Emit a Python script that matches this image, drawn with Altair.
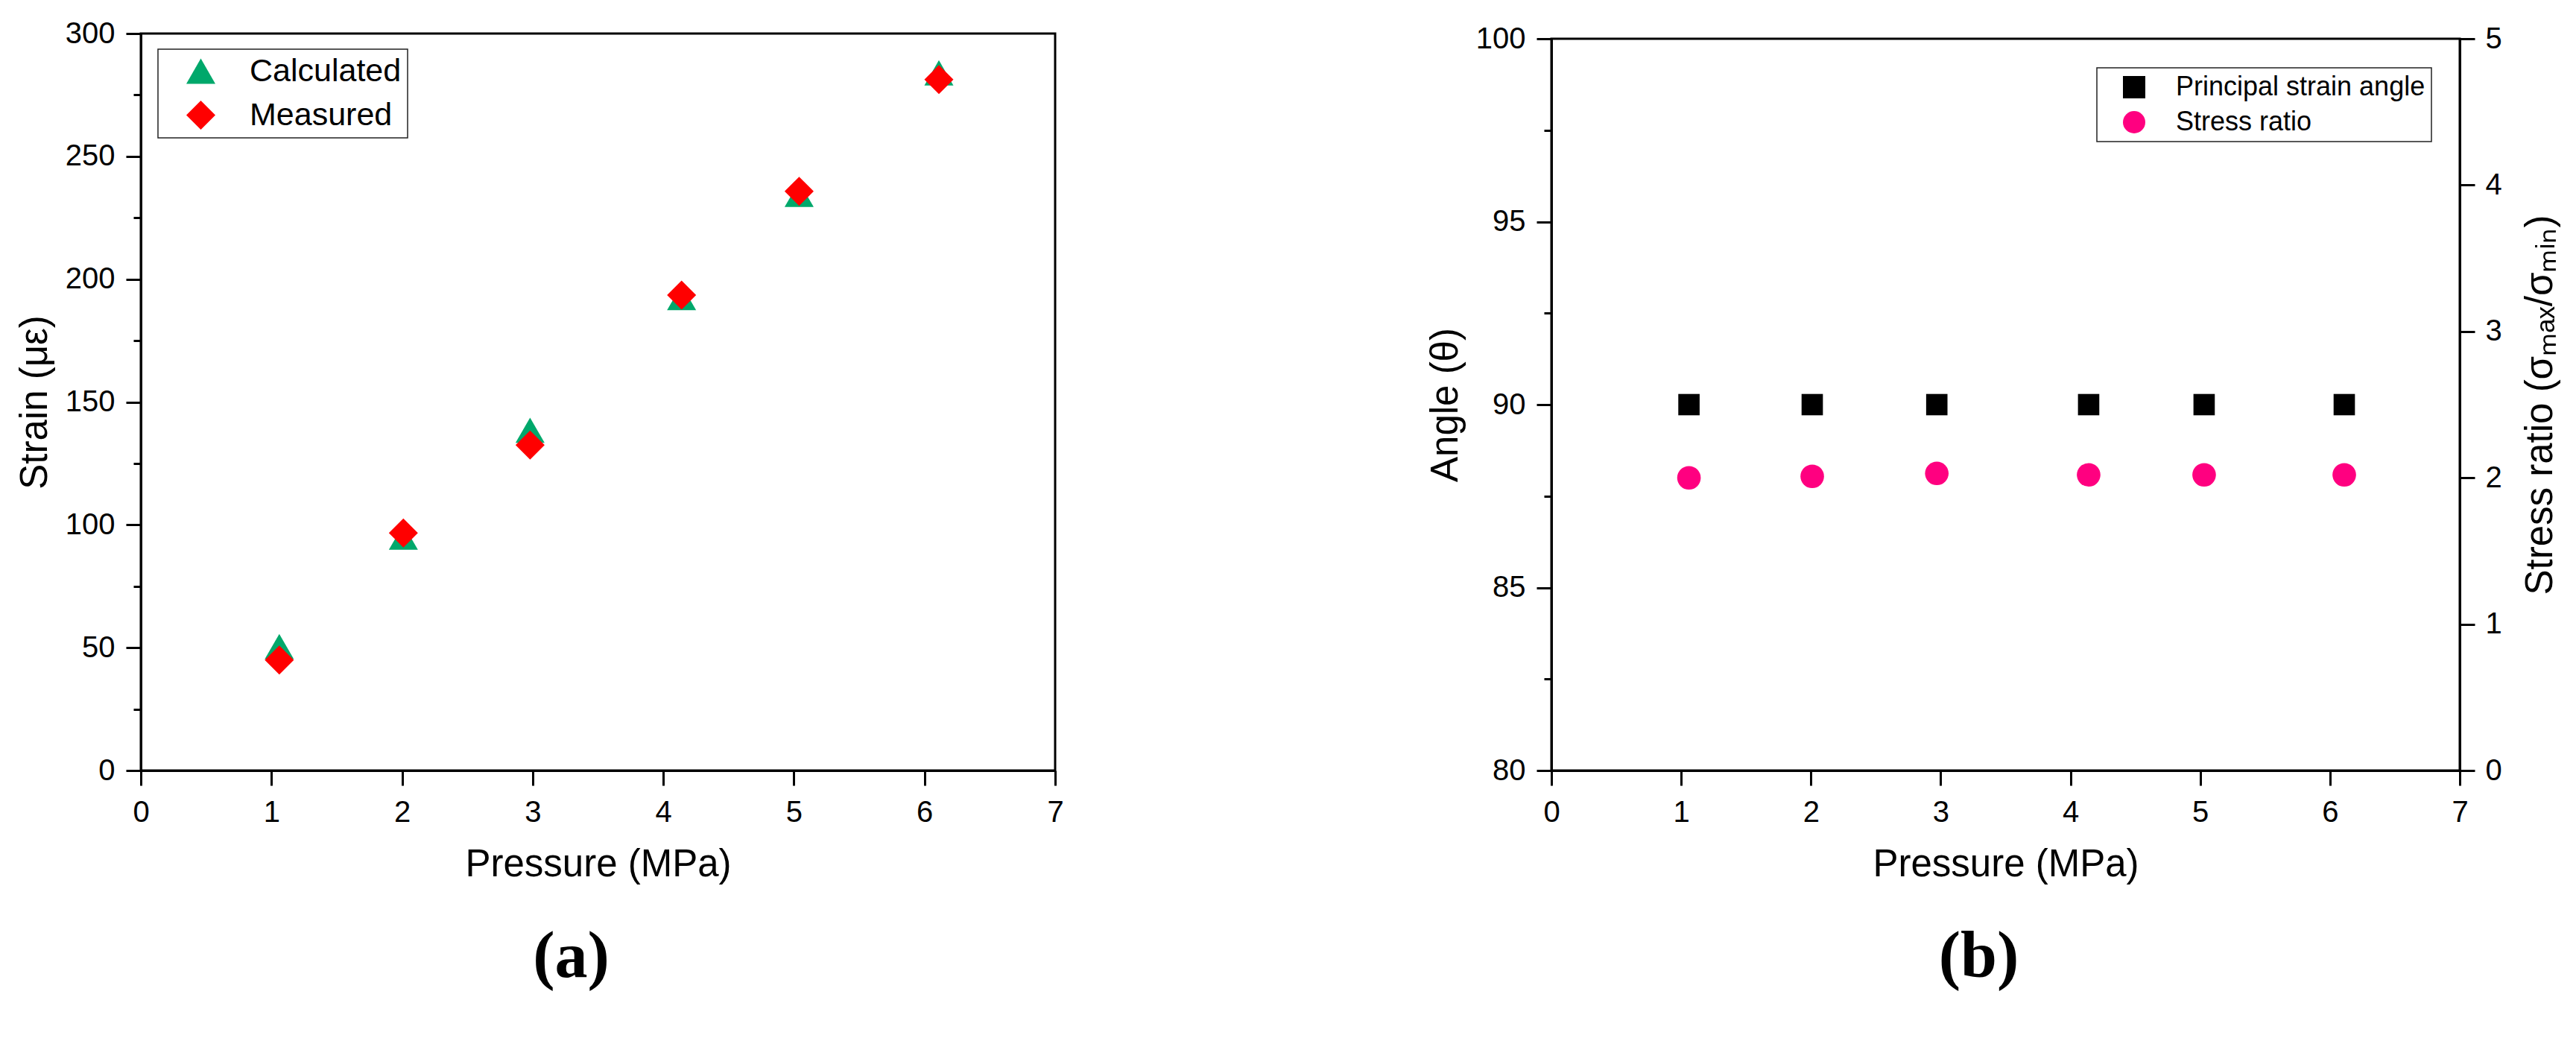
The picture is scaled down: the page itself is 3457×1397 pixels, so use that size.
import altair as alt
import pandas as pd

# ---------------- data ----------------
pressure = [1.06, 2.01, 2.98, 4.14, 5.04, 6.11]
strain_calculated = [50.5, 95, 138.5, 192.5, 234.5, 284]
strain_measured = [45, 96.7, 132.5, 193.5, 235.8, 281.3]

pressure_b = [1.06, 2.01, 2.97, 4.14, 5.03, 6.11]
angle = [90, 90, 90, 90, 90, 90]
stress_ratio = [2.00, 2.01, 2.03, 2.02, 2.02, 2.02]

series_a = ["Calculated", "Measured"]
series_b = ["Principal strain angle", "Stress ratio"]

x_ticks = [i * 0.5 for i in range(15)]
strain_ticks = list(range(0, 301, 25))
angle_ticks = [80 + 2.5 * i for i in range(9)]
ratio_ticks = [0.5 * i for i in range(11)]

FONT = "Liberation Sans"
SERIF = "Liberation Serif"


def make_axis(values, major_test, title, orient, label_pad, title_pad, **kw):
    return alt.Axis(
        values=values,
        title=title,
        orient=orient,
        grid=False,
        format="d",
        labelExpr=f"({major_test}) ? datum.label : ''",
        tickSize={"condition": {"test": major_test, "value": 20}, "value": 10},
        tickWidth=3,
        tickColor="black",
        domainWidth=3,
        domainColor="black",
        labelFont=FONT,
        labelFontSize=40,
        labelColor="black",
        labelPadding=label_pad,
        labelOverlap=False,
        labelFlush=False,
        titleFont=FONT,
        titleFontSize=51,
        titleFontWeight="normal",
        titleColor="black",
        titlePadding=title_pad,
        **kw,
    )


# ---------------- panel (a) ----------------
df_a = pd.DataFrame({
    "pressure": pressure + pressure,
    "strain": strain_calculated + strain_measured,
    "series": [series_a[0]] * len(pressure) + [series_a[1]] * len(pressure),
})

legend_a = alt.Legend(
    orient="none", legendX=23, legendY=21, title=None,
    strokeColor="#222222", fillColor="white", padding=8,
    labelFont=FONT, labelFontSize=43, labelColor="black", labelLimit=1000,
    symbolSize=1521, symbolStrokeWidth=0, symbolOffset=28,
    labelOffset=44, rowPadding=15,
)

chart_a = alt.Chart(df_a).mark_point(filled=True, opacity=1, size=1521, strokeWidth=0).encode(
    x=alt.X("pressure:Q", scale=alt.Scale(domain=[0, 7], nice=False, zero=False),
            axis=make_axis(x_ticks, "datum.value % 1 === 0", "Pressure (MPa)", "bottom", 16, 25)),
    y=alt.Y("strain:Q", scale=alt.Scale(domain=[0, 300], nice=False),
            axis=make_axis(strain_ticks, "datum.value % 50 === 0", "Strain (\u03bc\u03b5)", "left", 15, 14)),
    color=alt.Color("series:N", scale=alt.Scale(domain=series_a, range=["#00A86B", "#FF0000"]), legend=legend_a),
    shape=alt.Shape("series:N", scale=alt.Scale(domain=series_a, range=["triangle-up", "diamond"]), legend=legend_a),
).properties(
    width=1227, height=989,
    view=alt.ViewBackground(stroke="black", strokeWidth=3, fill="white"),
    title=alt.TitleParams("(a)", orient="bottom", anchor="middle", frame="group", dx=-36,
                          font=SERIF, fontSize=88, fontWeight="bold", color="black", offset=56),
)

# ---------------- panel (b) ----------------
df_b1 = pd.DataFrame({"pressure": pressure_b, "value": angle, "series": series_b[0]})
df_b2 = pd.DataFrame({"pressure": pressure_b, "value": stress_ratio, "series": series_b[1]})

legend_b = alt.Legend(
    orient="none", legendX=732, legendY=46, title=None,
    strokeColor="#222222", fillColor="white", padding=8,
    labelFont=FONT, labelFontSize=36, labelColor="black", labelLimit=1000,
    symbolSize=900, symbolStrokeWidth=0, symbolOffset=24,
    labelOffset=38, rowPadding=11,
)

color_b = alt.Color("series:N", scale=alt.Scale(domain=series_b, range=["#000000", "#FF0080"]), legend=legend_b)
shape_b = alt.Shape("series:N", scale=alt.Scale(domain=series_b, range=["square", "circle"]), legend=legend_b)
x_b = alt.X("pressure:Q", scale=alt.Scale(domain=[0, 7], nice=False, zero=False),
            axis=make_axis(x_ticks, "datum.value % 1 === 0", "Pressure (MPa)", "bottom", 16, 25))

layer_angle = alt.Chart(df_b1).mark_point(filled=True, opacity=1, size=820, strokeWidth=0).encode(
    x=x_b,
    y=alt.Y("value:Q", scale=alt.Scale(domain=[80, 100], nice=False, zero=False),
            axis=make_axis(angle_ticks, "datum.value % 5 === 0", "Angle (\u03b8)", "left", 15, 14)),
    color=color_b, shape=shape_b,
)
layer_ratio = alt.Chart(df_b2).mark_point(filled=True, opacity=1, size=1000, strokeWidth=0).encode(
    x=x_b,
    y=alt.Y("value:Q", scale=alt.Scale(domain=[0, 5], nice=False, zero=True),
            axis=make_axis(ratio_ticks, "datum.value % 1 === 0",
                           "Stress ratio (\u03c3\u2098\u2090\u2093/\u03c3\u2098\u1d62\u2099)", "right", 14, 27,
                           titleAngle=270, titleBaseline="top")),
    color=color_b, shape=shape_b,
)

chart_b = alt.layer(layer_angle, layer_ratio).resolve_scale(y="independent").properties(
    width=1219, height=982,
    view=alt.ViewBackground(stroke="black", strokeWidth=3, fill="white"),
    title=alt.TitleParams("(b)", orient="bottom", anchor="middle", frame="group", dx=-36,
                          font=SERIF, fontSize=88, fontWeight="bold", color="black", offset=56),
)

spacer = alt.Chart(pd.DataFrame({"v": [0]})).mark_point(opacity=0).encode(
    x=alt.X("v:Q", axis=None), y=alt.Y("v:Q", axis=None)
).properties(width=1219, height=7, view=alt.ViewBackground(strokeOpacity=0))

col_b = alt.vconcat(spacer, chart_b, spacing=0, bounds="flush")

chart = alt.hconcat(chart_a, col_b, spacing=666, bounds="flush").resolve_scale(
    color="independent", shape="independent"
).properties(
    padding={"left": 11, "top": 15, "right": 10, "bottom": 5},
    background="white",
).configure_legend(strokeWidth=1.5)

chart.save("out.html", embed_options={"renderer": "svg", "actions": False})
